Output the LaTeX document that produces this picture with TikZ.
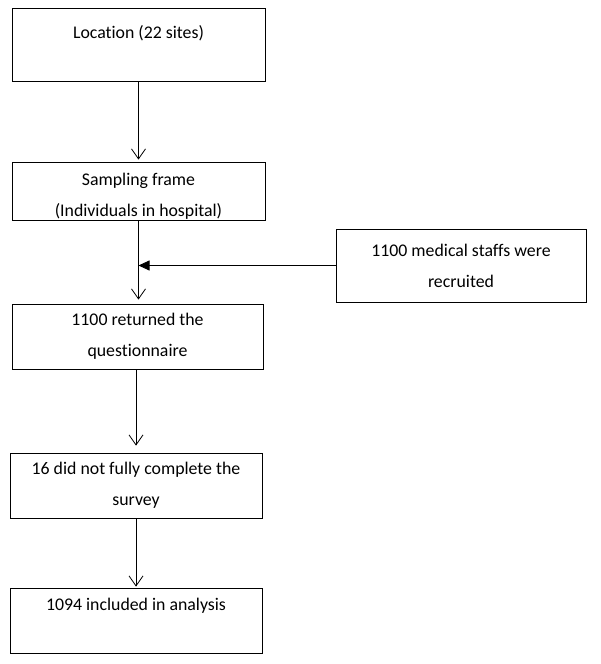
\documentclass[tikz,border=0pt]{standalone}
\usepackage{fontspec}
\setmainfont{Carlito}[RawFeature={-liga;-dlig}]
\usetikzlibrary{arrows.meta}
\begin{document}
\begin{tikzpicture}[x=1pt, y=-1pt, line width=0.8pt,
        box/.style={draw, rectangle, align=center, inner sep=0pt, font=\fontsize{17.8}{31}\selectfont},
        flow/.style={-{Straight Barb[length=10pt, width=14pt]}},
        feed/.style={-{Triangle[length=11pt, width=10pt]}}]
        \useasboundingbox (0,0) rectangle (600,664);
        \node[box, minimum width=253pt, minimum height=73pt, text height=12pt, text depth=25pt] (loc) at (138.5,44.5) {Location (22 sites)};
        \node[box, minimum width=253pt, minimum height=58pt] (frame) at (138.5,191) {\rule{0pt}{22pt}Sampling frame\\(Individuals in hospital)};
        \node[box, minimum width=250pt, minimum height=73pt] (recruit) at (461,265.5) {1100 medical staffs were\\recruited};
        \node[box, minimum width=251pt, minimum height=65pt] (returned) at (137.5,336.5) {1100 returned the\\questionnaire};
        \node[box, minimum width=252pt, minimum height=65pt] (survey) at (136,485.5) {16 did not fully complete the\\survey};
        \node[box, minimum width=252pt, minimum height=65pt, text height=12pt, text depth=33pt] (analysis) at (136,620.5) {1094 included in analysis};

        \coordinate (join) at (frame.south |- recruit.west);
        \draw[flow, shorten >=2pt] (loc) -- (frame);
        \draw[flow, shorten >=4pt] (frame.south) -- (frame.south |- returned.north);
        \draw[feed] (recruit.west) -- (join);
        \draw[flow, shorten >=7pt] (survey.north |- returned.south) -- (survey.north);
        \draw[flow, shorten >=1pt] (survey) -- (analysis);
    \end{tikzpicture}
\end{document}
